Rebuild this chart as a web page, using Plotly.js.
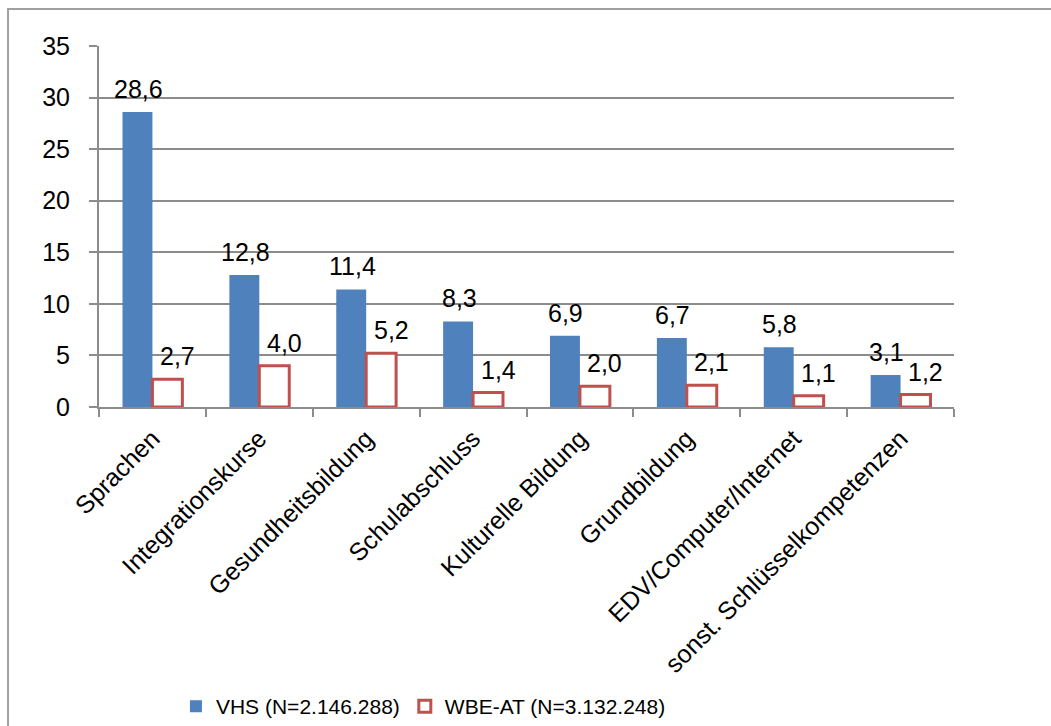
<!DOCTYPE html>
<html>
<head>
<meta charset="utf-8">
<script src="https://cdn.plot.ly/plotly-3.0.1.min.js"></script>
<style>
html,body{margin:0;padding:0;background:#fff;}
#chart{width:1051px;height:726px;}
</style>
</head>
<body>
<div id="chart"></div>
<script>
const categories = ["Sprachen","Integrationskurse","Gesundheitsbildung","Schulabschluss","Kulturelle Bildung","Grundbildung","EDV/Computer/Internet","sonst. Schlüsselkompetenzen"];
const vhsValues = [28.6, 12.8, 11.4, 8.3, 6.9, 6.7, 5.8, 3.1];
const wbeValues = [2.7, 4.0, 5.2, 1.4, 2.0, 2.1, 1.1, 1.2];
const seriesNames = ["VHS (N=2.146.288)", "WBE-AT (N=3.132.248)"];
const yTicks = [0, 5, 10, 15, 20, 25, 30, 35];

const FONT = "Liberation Sans, Arial, sans-serif";
const fmt = v => v.toFixed(1).replace(".", ",");

const traces = [
  {
    type: "bar", name: seriesNames[0], x: categories, y: vhsValues,
    marker: {color: "rgb(79,129,189)", line: {width: 0}},
    hoverinfo: "x+y"
  },
  {
    type: "bar", name: seriesNames[1], x: categories, y: wbeValues,
    marker: {color: "rgba(255,255,255,1)", line: {color: "rgb(192,80,77)", width: 3}},
    hoverinfo: "x+y"
  }
];

const annotations = [];
categories.forEach((c, i) => {
  annotations.push({x: c, y: vhsValues[i], text: fmt(vhsValues[i]), showarrow: false,
    xanchor: "center", yanchor: "bottom", xshift: -14, yshift: 7,
    font: {family: FONT, size: 25, color: "#000"}});
  annotations.push({x: c, y: wbeValues[i], text: fmt(wbeValues[i]), showarrow: false,
    xanchor: "center", yanchor: "bottom", xshift: 25, yshift: 7,
    font: {family: FONT, size: 25, color: "#000"}});
});

const layout = {
  width: 1051, height: 726,
  paper_bgcolor: "#fff", plot_bgcolor: "#fff",
  margin: {l: 99, r: 97, t: 46, b: 319, autoexpand: false},
  font: {family: FONT, size: 25, color: "#000"},
  barmode: "group", bargap: 0.44, bargroupgap: 0,
  xaxis: {
    type: "category", tickangle: -45, tickson: "boundaries",
    ticks: "outside", ticklen: 8, tickwidth: 2, tickcolor: "#8c8c8c",
    showline: true, linecolor: "#8c8c8c", linewidth: 2,
    showgrid: false, zeroline: false, automargin: false, ticklabelstandoff: 5,
    tickfont: {family: FONT, size: 25, color: "#000"}
  },
  yaxis: {
    range: [0, 35], tickvals: yTicks, ticktext: yTicks.map(String),
    ticks: "outside", ticklen: 8, tickwidth: 2, tickcolor: "#8c8c8c",
    showline: true, linecolor: "#8c8c8c", linewidth: 2,
    showgrid: true, gridcolor: "#8c8c8c", gridwidth: 2,
    zeroline: false, automargin: false, ticklabelstandoff: 14,
    tickfont: {family: FONT, size: 25, color: "#000"}
  },
  showlegend: true,
  legend: {
    orientation: "h", x: 0.09, xanchor: "left", y: -0.83, yanchor: "middle",
    font: {family: FONT, size: 21, color: "#000"}, bgcolor: "rgba(0,0,0,0)",
    itemwidth: 30, traceorder: "normal"
  },
  annotations: annotations,
  shapes: [{
    type: "rect", xref: "paper", yref: "paper",
    x0: -0.1064, x1: 1.3, y0: 1.1025, y1: -1.2,
    line: {color: "#a0a0a0", width: 2}, fillcolor: "rgba(0,0,0,0)", layer: "below"
  }]
};

Plotly.newPlot("chart", traces, layout, {displayModeBar: false, staticPlot: true});
</script>
</body>
</html>
